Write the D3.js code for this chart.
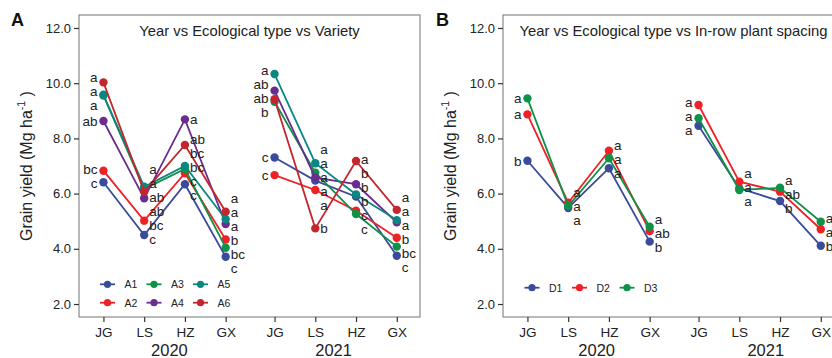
<!DOCTYPE html>
<html>
<head>
<meta charset="utf-8">
<script src="https://cdn.jsdelivr.net/npm/d3@7/dist/d3.min.js"></script>
<style>
  html, body { margin: 0; padding: 0; background: #fff; }
  svg { display: block; font-family: "Liberation Sans", Arial, Helvetica, sans-serif; }
</style>
</head>
<body>
<svg id="chart" width="832" height="358"></svg>
<script>
// Sites (ecological types) and years on the x axis
const sites = ["JG", "LS", "HZ", "GX"];
const years = ["2020", "2021"];
const yTicks = [2, 4, 6, 8, 10, 12];

// Panel A: grain yield by variety, order 2020 JG LS HZ GX, 2021 JG LS HZ GX
const varieties = ["A1", "A2", "A3", "A4", "A5", "A6"];
const yieldA1 = [6.41, 4.50, 6.34, 3.71, 7.31, 6.47, 5.89, 3.75];
const yieldA2 = [6.83, 5.02, 6.74, 4.34, 6.67, 6.13, 5.38, 4.40];
const yieldA3 = [9.55, 6.17, 6.89, 4.04, 9.33, 6.76, 5.26, 4.08];
const yieldA4 = [8.63, 5.83, 8.69, 4.90, 9.73, 6.58, 6.34, 4.96];
const yieldA5 = [9.58, 6.25, 7.00, 5.07, 10.33, 7.10, 5.97, 5.04];
const yieldA6 = [10.03, 6.07, 7.76, 5.34, 9.42, 4.74, 7.18, 5.41];
const lettersA1 = ["c", "c", "c", "c", "c", "a", "b", "c"];
const lettersA2 = ["bc", "bc", "c", "b", "c", "a", "c", "b"];
const lettersA3 = ["a", "a", "bc", "bc", "b", "a", "c", "bc"];
const lettersA4 = ["ab", "ab", "a", "a", "ab", "a", "b", "a"];
const lettersA5 = ["a", "a", "bc", "a", "a", "a", "b", "a"];
const lettersA6 = ["a", "ab", "ab", "a", "ab", "b", "a", "a"];

// Panel B: grain yield by in-row plant spacing
const spacings = ["D1", "D2", "D3"];
const yieldD1 = [7.19, 5.48, 6.92, 4.26, 8.46, 6.19, 5.73, 4.11];
const yieldD2 = [8.87, 5.67, 7.55, 4.64, 9.21, 6.43, 6.07, 4.71];
const yieldD3 = [9.45, 5.55, 7.28, 4.80, 8.73, 6.13, 6.21, 4.98];
const lettersD1 = ["b", "a", "a", "b", "a", "a", "b", "b"];
const lettersD2 = ["a", "a", "a", "ab", "a", "a", "ab", "a"];
const lettersD3 = ["a", "a", "a", "a", "a", "a", "a", "a"];

const colorsA = ["#3b4b9b", "#ee2127", "#0f9147", "#6a2c8e", "#0b8782", "#c3262d"];
const colorsD = ["#3b4b9b", "#ee2127", "#0f9147"];

const svg = d3.select("#chart");

// x position of a site within a year; years separated by a small extra gap
const yearGap = 0.2;
const xValue = i => (i % 4) + 1 + Math.floor(i / 4) * (4 + yearGap);

function drawPanel(cfg) {
  const g = svg.append("g");
  const x = d3.scaleLinear().domain([0.4, 8.77]).range([cfg.left, cfg.left + 341]);
  const y = d3.scaleLinear().domain([1.53, 12.47]).range([317, 15]);

  // frame
  g.append("rect")
    .attr("x", cfg.left).attr("y", 15)
    .attr("width", 341).attr("height", 302)
    .attr("fill", "none").attr("stroke", "#8a8a8a").attr("stroke-width", 1.2);

  // y axis
  const yAxis = g.append("g").attr("transform", `translate(${cfg.left},0)`)
    .call(d3.axisLeft(y).tickValues(yTicks).tickFormat(d3.format(".1f")).tickSize(5).tickPadding(3));
  yAxis.select(".domain").remove();
  yAxis.selectAll("line").attr("stroke", "#333").attr("stroke-width", 1.2);
  yAxis.selectAll("text").attr("font-size", 13).attr("fill", "#222").attr("font-family", null);

  // x axis
  const xTickVals = d3.range(8).map(xValue);
  const xAxis = g.append("g").attr("transform", "translate(0,317)")
    .call(d3.axisBottom(x).tickValues(xTickVals).tickFormat((d, i) => sites[i % 4]).tickSize(5).tickPadding(5));
  xAxis.select(".domain").remove();
  xAxis.selectAll("line").attr("stroke", "#333").attr("stroke-width", 1.2);
  xAxis.selectAll("text").attr("font-size", 13.5).attr("fill", "#222").attr("font-family", null);

  // year labels
  g.selectAll(".year").data(years).enter().append("text")
    .attr("x", (d, i) => x(cfg.yearAt[i]))
    .attr("y", 356)
    .attr("text-anchor", "middle")
    .attr("font-size", 16.5).attr("fill", "#222")
    .text(d => d);

  // y axis title
  const yt = g.append("text")
    .attr("transform", `translate(${cfg.left - 47},166) rotate(-90)`)
    .attr("text-anchor", "middle")
    .attr("font-size", 16).attr("fill", "#222");
  yt.append("tspan").text("Grain yield  (Mg ha");
  yt.append("tspan").attr("font-size", 10.5).attr("dy", -7).text("-1");
  yt.append("tspan").attr("dy", 7).text(" )");

  // title
  g.append("text")
    .attr("x", cfg.left + 170.5).attr("y", 36)
    .attr("text-anchor", "middle")
    .attr("font-size", 14.8).attr("fill", "#222")
    .text(cfg.title);

  // panel tag
  g.append("text")
    .attr("x", cfg.tagX).attr("y", 26)
    .attr("font-size", 18).attr("font-weight", "bold").attr("fill", "#111")
    .text(cfg.tag);

  // lines + points
  cfg.series.forEach((s, k) => {
    const sg = g.append("g");
    [0, 1].forEach(yr => {
      const seg = s.values.slice(yr * 4, yr * 4 + 4);
      sg.append("path")
        .datum(seg)
        .attr("d", d3.line().x((d, i) => x(xValue(yr * 4 + i))).y(d => y(d)))
        .attr("fill", "none").attr("stroke", s.color).attr("stroke-width", 1.8);
    });
    sg.selectAll("circle").data(s.values).enter().append("circle")
      .attr("cx", (d, i) => x(xValue(i)))
      .attr("cy", d => y(d))
      .attr("r", 4.2)
      .attr("fill", s.color);
  });

  // significance letters, dodged vertically per site
  const gap = 14;
  for (let i = 0; i < 8; i++) {
    const items = cfg.series.map(s => ({ text: s.letters[i], target: y(s.values[i]) }))
      .sort((a, b) => a.target - b.target);
    // cluster-based dodge
    let clusters = items.map(it => ({ items: [it], center: it.target }));
    let merged = true;
    while (merged) {
      merged = false;
      for (let c = 0; c < clusters.length - 1; c++) {
        const a = clusters[c], b = clusters[c + 1];
        const aBottom = a.center + (a.items.length - 1) * gap / 2;
        const bTop = b.center - (b.items.length - 1) * gap / 2;
        if (bTop - aBottom < gap) {
          const all = a.items.concat(b.items);
          const center = d3.mean(all, d => d.target);
          clusters.splice(c, 2, { items: all, center });
          merged = true;
          break;
        }
      }
    }
    clusters.forEach(c => {
      c.items.forEach((it, j) => { it.pos = c.center + (j - (c.items.length - 1) / 2) * gap; });
    });
    const left = (i % 4) === 0;
    const px = x(xValue(i));
    g.selectAll(null).data(items).enter().append("text")
      .attr("x", left ? px - 6 : px + 5)
      .attr("y", d => d.pos + 5)
      .attr("text-anchor", left ? "end" : "start")
      .attr("font-size", 13.5).attr("fill", "#222")
      .text(d => d.text);
  }

  // legend
  const lg = g.append("g");
  cfg.series.forEach((s, k) => {
    const col = Math.floor(k / cfg.legendRows), row = k % cfg.legendRows;
    const lx = cfg.legendX + col * cfg.legendColW;
    const ly = cfg.legendY + row * 18.4;
    lg.append("line").attr("x1", lx - 7.5).attr("x2", lx + 7.5).attr("y1", ly).attr("y2", ly)
      .attr("stroke", s.color).attr("stroke-width", 1.8);
    lg.append("circle").attr("cx", lx).attr("cy", ly).attr("r", 3.6).attr("fill", s.color);
    lg.append("text").attr("x", lx + 17).attr("y", ly + 3.8)
      .attr("font-size", 10.5).attr("fill", "#222").text(s.name);
  });
}

const valuesA = [yieldA1, yieldA2, yieldA3, yieldA4, yieldA5, yieldA6];
const lettersA = [lettersA1, lettersA2, lettersA3, lettersA4, lettersA5, lettersA6];
const valuesD = [yieldD1, yieldD2, yieldD3];
const lettersD = [lettersD1, lettersD2, lettersD3];

drawPanel({
  left: 79, tag: "A", tagX: 11,
  title: "Year vs Ecological type vs Variety",
  yearAt: [2.62, 6.65],
  series: varieties.map((n, k) => ({ name: n, color: colorsA[k], values: valuesA[k], letters: lettersA[k] })),
  legendX: 107.5, legendY: 284.3, legendRows: 2, legendColW: 46.5
});

drawPanel({
  left: 503, tag: "B", tagX: 436,
  title: "Year vs Ecological type vs In-row plant spacing",
  yearAt: [2.7, 6.85],
  series: spacings.map((n, k) => ({ name: n, color: colorsD[k], values: valuesD[k], letters: lettersD[k] })),
  legendX: 532, legendY: 287.7, legendRows: 1, legendColW: 47.5
});
</script>
</body>
</html>
